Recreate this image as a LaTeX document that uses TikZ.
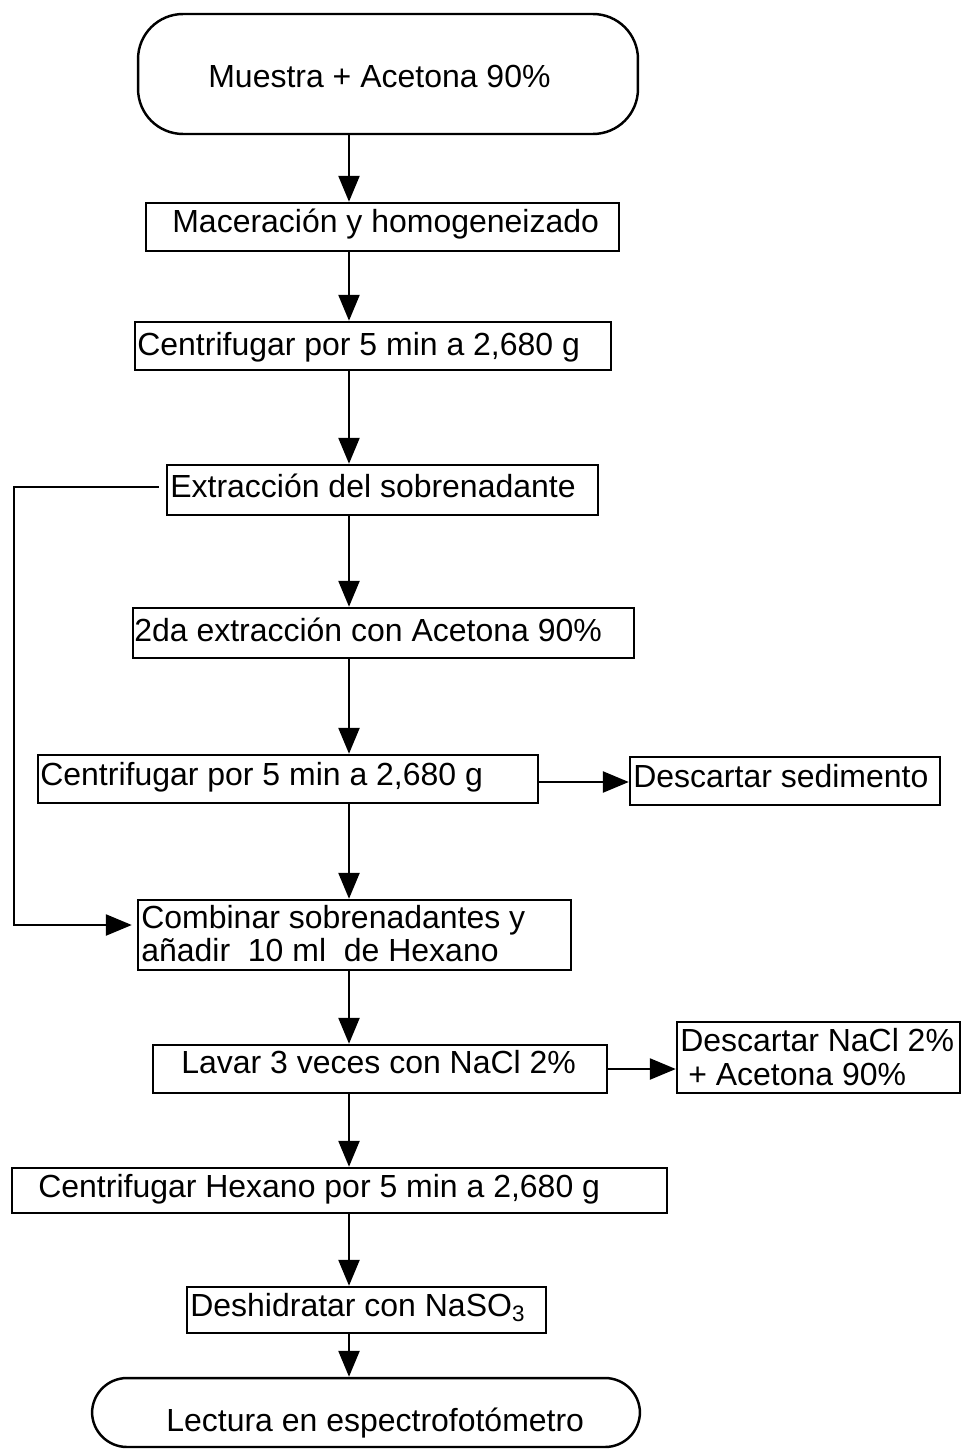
\documentclass[tikz,border=0pt]{standalone}
\usepackage{fontspec}
\setmainfont{Liberation Sans}
\usetikzlibrary{arrows.meta}
\begin{document}
\begin{tikzpicture}[x=0.02cm,y=-0.02cm,
  box/.style={draw, line width=1.4pt, inner sep=0pt, minimum height=0.96cm},
  term/.style={box, rounded corners=0.9cm},
  txt/.style={anchor=base west, inner sep=0pt, font=\fontsize{18.2}{22}\selectfont},
  arr/.style={line width=1.4pt, -{Triangle[length=5.2mm,width=4.2mm]}},
  lin/.style={line width=1.4pt}]
\useasboundingbox (0,0) rectangle (962,1449);
% boxes
\node[term, minimum width=10cm, minimum height=2.4cm] (b1) at (388,74) {};
\node[box, minimum width=9.46cm] (b2) at (382.5,227) {};
\node[box, minimum width=9.52cm] (b3) at (373,346) {};
\node[box, minimum width=8.62cm, minimum height=1cm] (b4) at (382.5,490) {};
\node[box, minimum width=10.02cm, minimum height=1cm] (b5) at (383.5,633) {};
\node[box, minimum width=10cm] (b6) at (288,779) {};
\node[box, minimum width=6.2cm] (d1) at (785,781) {};
\node[box, minimum width=8.66cm, minimum height=1.4cm] (b7) at (354.5,935) {};
\node[box, minimum width=9.08cm] (b8) at (380,1069) {};
\node[box, minimum width=5.66cm, minimum height=1.42cm] (d2) at (818.5,1057.5) {};
\node[box, minimum width=13.1cm, minimum height=0.9cm] (b9) at (339.5,1190.5) {};
\node[box, minimum width=7.18cm, minimum height=0.92cm] (b10) at (366.5,1310) {};
\node[term, rounded corners=0.7cm, minimum width=10.96cm, minimum height=1.38cm] (b11) at (366,1412.5) {};
% texts
\node[txt] (t1) at (208,88) {Muestra + Acetona 90\%};
\node[txt] (t2) at (172,233) {Maceración y homogeneizado};
\node[txt] (t3) at (137,355) {Centrifugar por 5 min a 2,680 g};
\node[txt] (t4) at (170,497) {Extracción del sobrenadante};
\node[txt] (t5) at (134,641) {2da extracción con Acetona 90\%};
\node[txt] (t6) at (40,785) {Centrifugar por 5 min a 2,680 g};
\node[txt] (td1) at (633,787) {Descartar sedimento};
\node[txt] (t7a) at (141,928) {Combinar sobrenadantes y};
\node[txt] (t7b) at (141,961) {añadir\ \ 10 ml\ \ de Hexano};
\node[txt] (t8) at (181,1073) {Lavar 3 veces con NaCl 2\%};
\node[txt] (td2a) at (680,1051) {Descartar NaCl 2\%};
\node[txt] (td2b) at (688,1085) {+ Acetona 90\%};
\node[txt] (t9) at (38,1197) {Centrifugar Hexano por 5 min a 2,680 g};
\node[txt] (t10) at (190,1316) {Deshidratar con NaSO\textsubscript{3}};
\node[txt] (t11) at (166,1431) {Lectura en espectrofotómetro};
% connectors
\coordinate (ax) at (349,0);
\coordinate (lx) at (14,0);
\draw[arr] (b1.south -| ax) -- (b2.north -| ax);
\draw[arr] (b2.south -| ax) -- (b3.north -| ax);
\draw[arr] (b3.south -| ax) -- (b4.north -| ax);
\draw[arr] (b4.south -| ax) -- (b5.north -| ax);
\draw[arr] (b5.south -| ax) -- (b6.north -| ax);
\draw[arr] (b6.south -| ax) -- (b7.north -| ax);
\draw[arr] (b7.south -| ax) -- (b8.north -| ax);
\draw[arr] (b8.south -| ax) -- (b9.north -| ax);
\draw[arr] (b9.south -| ax) -- (b10.north -| ax);
\draw[arr] (b10.south -| ax) -- (b11.north -| ax);
\draw[arr] ([yshift=-0.06cm]b6.east) -- ([yshift=-0.06cm]b6.east -| d1.west);
\draw[arr] (b8.east) -- (b8.east -| d2.west);
\draw[arr, shorten <=0.14cm, shorten >=0.1cm] ([yshift=0.06cm]b4.west) -- ([yshift=0.06cm]b4.west -| lx) |- ([yshift=0.2cm]b7.west);
\end{tikzpicture}
\end{document}
